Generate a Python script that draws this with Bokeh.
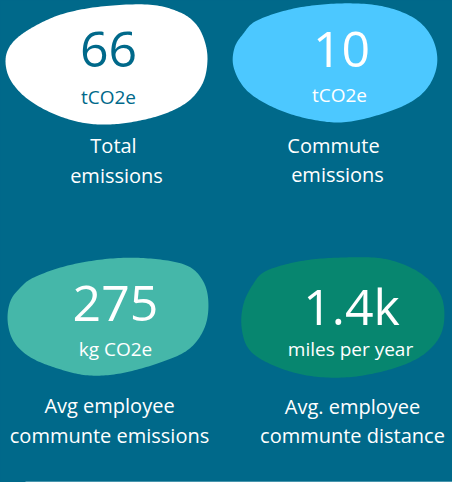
import numpy as np
from bokeh.plotting import figure
from bokeh.models import Range1d, ColumnDataSource
from bokeh.core.properties import value
from bokeh.embed import file_html
from bokeh.resources import INLINE

# ---- data ----
values = ["66", "10", "275", "1.4k"]
units = ["tCO2e", "tCO2e", "kg CO2e", "miles per year"]
labels_line1 = ["Total", "Commute", "Avg employee", "Avg. employee"]
labels_line2 = ["emissions", "emissions", "communte emissions", "communte distance"]

# ---- layout / style ----
BG = "#00698a"
W, H = 452, 482
blob_colors = ["#ffffff", "#4cc8ff", "#45b7a9", "#07866f"]
value_colors = [BG, "#ffffff", "#ffffff", "#ffffff"]
unit_colors = [BG, "#ffffff", "#ffffff", "#ffffff"]
text_x = [[108, 108, 113, 116], [341, 339, 333, 337], [115, 115, 109, 109], [351, 350, 352, 352]]
text_y = [[67, 102, 153, 183], [67, 100, 153, 182], [321, 354, 413, 443], [323, 354, 414, 443]]
y_adjust = [-18, -6, -8.5, -8.5]  # renderer baseline correction per text row
sizes = ["50px", "19px", "20px", "20px"]

blob_pts = [
    [(30, 28), (60, 14), (100, 6), (150, 4), (180, 12), (195, 23), (203, 37), (207, 55), (205, 75),
     (198, 90), (185, 103), (165, 113), (140, 120), (110, 124), (80, 122), (50, 112), (25, 97),
     (9, 78), (5, 58), (12, 42)],
    [(256, 20), (293, 8), (336, 3), (379, 5), (413, 17), (431, 36), (437, 60), (430, 83), (413, 100),
     (383, 113), (343, 122), (306, 118), (273, 107), (246, 90), (233, 67), (234, 47), (243, 33)],
    [(33, 277), (67, 265), (110, 258), (150, 258), (187, 265), (204, 283), (208, 307), (203, 330), (187, 350),
     (157, 363), (120, 373), (87, 375), (57, 368), (30, 357), (13, 341), (7, 320), (10, 300), (20, 287)],
    [(266, 270), (303, 260), (343, 257), (383, 258), (416, 270), (438, 290), (444, 313), (439, 337), (419, 357),
     (386, 370), (346, 377), (306, 375), (273, 365), (249, 350), (241, 327), (243, 303), (253, 283)],
]


def closed_spline(pts, n=16, smooth=9):
    P = np.array(pts, dtype=float)
    m = len(P)
    out = []
    for i in range(m):
        p0, p1, p2, p3 = P[(i - 1) % m], P[i], P[(i + 1) % m], P[(i + 2) % m]
        for t in np.linspace(0, 1, n, endpoint=False):
            t2, t3 = t * t, t * t * t
            out.append(0.5 * ((2 * p1) + (-p0 + p2) * t + (2 * p0 - 5 * p1 + 4 * p2 - p3) * t2
                              + (-p0 + 3 * p1 - 3 * p2 + p3) * t3))
    out = np.array(out)
    k = np.ones(smooth) / smooth
    half = smooth // 2
    ext = np.vstack([out[-half:], out, out[:half]])
    xs = np.convolve(ext[:, 0], k, mode="valid")
    ys = np.convolve(ext[:, 1], k, mode="valid")
    return list(xs), list(ys)


p = figure(width=W, height=H, output_backend="svg", toolbar_location=None,
           x_range=Range1d(0, W), y_range=Range1d(H, 0), min_border=0)
p.axis.visible = False
p.grid.visible = False
p.outline_line_color = None
p.background_fill_color = BG
p.border_fill_color = BG

bx, by = [], []
for pts in blob_pts:
    xs, ys = closed_spline(pts)
    bx.append(xs)
    by.append(ys)
p.patches(bx, by, fill_color=blob_colors, line_color=None)

# bottom rule
p.line([25, W], [481.5, 481.5], line_color="#8fc3d1", line_width=1)

FONT = value("Open Sans")
rows = [(values, value_colors), (units, unit_colors),
        (labels_line1, ["#ffffff"] * 4), (labels_line2, ["#ffffff"] * 4)]
for r, (texts, colors) in enumerate(rows):
    src = ColumnDataSource(dict(x=[t[r] for t in text_x],
                                y=[t[r] + y_adjust[r] for t in text_y],
                                t=texts, c=colors))
    p.text("x", "y", text="t", source=src, text_color="c", text_font=FONT, text_font_size=sizes[r],
           text_align="center", text_baseline="alphabetic")

html = file_html(p, INLINE)
html = html.replace("</head>", "<style>html,body{margin:0;padding:0;background:%s;overflow:hidden}</style></head>" % BG, 1)
open("out.html", "w").write(html)
